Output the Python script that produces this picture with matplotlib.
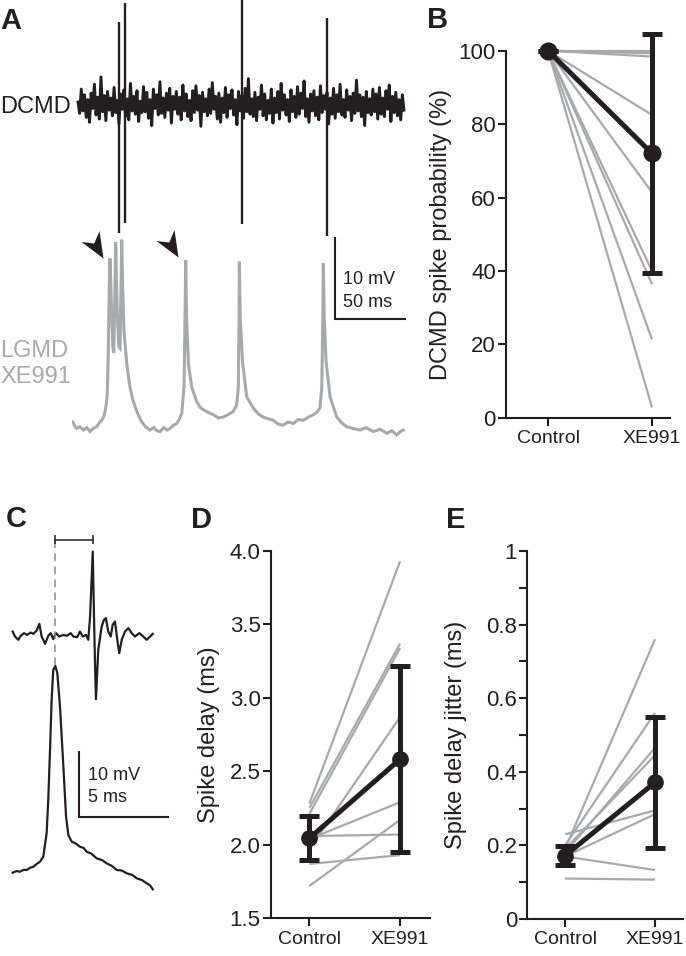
import numpy as np
import matplotlib.pyplot as plt
from matplotlib.path import Path

plt.rcParams['font.family'] = ['Liberation Sans', 'DejaVu Sans']

BLACK = '#231f20'
GRAY = '#a7a9ac'
W, H = 686, 956  # figure size in pixels

# ---------------- data ----------------
# Panel A: LGMD membrane potential (ms, mV above rest)
lgmd_a = [(0.5, 1.0), (2.0, 0.5), (3.4, 0.2), (5.5, 0.4), (8.1, 0.0), (10.5, 0.3), (12.9, -0.2),
          (15.2, 0.2), (17.6, 0.4), (19.5, 0.9), (21.2, 1.2), (22.5, 1.6), (23.6, 2.3), (24.5, 3.2),
          (25.2, 4.5), (25.9, 9.5), (26.6, 17.7), (27.1, 21.2), (28.1, 15.7), (29.1, 10.3),
          (29.8, 9.5), (30.5, 15.6), (31.2, 23.2), (32.1, 15.6), (33.4, 10.3), (34.3, 10.1),
          (35.0, 17.7), (35.5, 23.5), (36.2, 17.7), (37.1, 12.3), (39.1, 8.2), (41.4, 5.3),
          (43.2, 3.9), (45.0, 2.9), (47.5, 1.8), (49.8, 1.0), (52.5, 0.4), (55.7, 0.0), (58.5, 0.3),
          (60.6, -0.1), (62.9, -0.2), (65.5, 0.3), (68.0, 0.0), (70.0, 0.2), (72.5, 0.6), (74.8, 0.8),
          (76.8, 1.4), (78.4, 2.1), (80.0, 5.3), (80.7, 13.6), (81.2, 21.0), (81.9, 13.6), (83.1, 8.2),
          (85.5, 5.3), (89.1, 3.5), (91.5, 2.8), (93.8, 2.5), (97.0, 2.2), (100.9, 1.9), (104.5, 1.5),
          (108.1, 1.6), (111.5, 1.9), (115.2, 2.3), (117.6, 3.1), (118.8, 5.3), (119.3, 13.6),
          (119.5, 20.8), (120.2, 13.6), (121.9, 8.2), (124.8, 4.1), (129.5, 2.7), (133.0, 2.0),
          (136.6, 1.6), (140.0, 1.4), (143.8, 1.2), (147.5, 0.7), (150.9, 0.6), (154.5, 1.0),
          (158.1, 0.8), (161.5, 1.3), (165.2, 1.2), (169.0, 1.6), (172.4, 1.9), (175.0, 2.2),
          (177.1, 2.7), (178.4, 5.3), (179.1, 13.6), (179.5, 20.6), (180.2, 13.6), (181.4, 8.6),
          (184.3, 4.1), (189.1, 1.6), (192.5, 0.9), (196.2, 0.4), (200.5, 0.2), (205.7, 0.0),
          (210.0, 0.3), (215.2, -0.2), (220.0, 0.1), (224.8, -0.4), (228.5, -0.1), (231.9, -0.6),
          (234.5, -0.2), (236.6, 0.0)]

# Panel A: DCMD extracellular noise (same scale, offset upward)
DCMD_OFFSET = 40.2
dcmd_start, dcmd_end = 4.3, 237.1
dcmd_noise = [
    0.3, -1.1, 1.9, -0.8, 1.2, -1.6, 0.6, -2.2, 1.4, -0.5, 2.5, -1.3, 0.9, -1.8, 3.4, -0.9, 1.1, -2.0, 1.6, -0.7,
    0.8, -1.4, 2.1, -1.0, 0.5, -2.4, 1.3, -0.6, 1.8, -1.5, 0.7, -1.9, 2.6, -0.8, 1.0, -1.2, 1.7, -2.1, 0.4, -1.0,
    2.2, -0.9, 1.5, -1.7, 0.6, -2.6, 1.9, -0.5, 1.2, -1.3, 2.8, -1.1, 0.8, -1.6, 1.4, -0.7, 2.0, -2.3, 1.0, -0.6,
    1.6, -1.2, 0.9, -1.9, 2.4, -0.8, 1.3, -1.5, 0.5, -2.0, 1.7, -1.0, 2.3, -0.7, 1.1, -2.7, 1.5, -0.9, 0.7, -1.4,
    1.9, -1.1, 2.7, -0.6, 1.0, -1.8, 1.4, -2.2, 0.8, -1.0, 2.1, -1.6, 1.2, -0.5, 1.8, -1.3, 0.6, -2.5, 1.6, -0.8,
    1.1, -1.7, 2.0, -0.9, 3.2, -1.2, 0.7, -1.5, 1.5, -2.0, 0.9, -0.6, 2.4, -1.4, 1.3, -1.9, 0.5, -1.1, 1.9, -2.3,
    0.8, -1.0, 1.6, -1.8, 2.6, -0.7, 1.2, -1.3, 0.6, -2.1, 1.8, -0.9, 1.0, -1.6, 2.2, -1.2, 1.4, -0.5, 2.9, -1.5,
    0.7, -2.2, 1.3, -0.8, 1.7, -1.4, 0.9, -1.9, 2.3, -1.0, 1.1, -0.6, 1.5, -2.4, 0.8, -1.2, 2.0, -1.7, 1.2, -0.9,
    2.5, -1.3, 0.6, -1.6, 1.8, -0.7, 1.0, -2.0, 1.4, -1.1, 3.0, -0.8, 1.2, -1.5, 0.9, -2.6, 1.6, -1.0, 0.7, -1.3,
    1.9, -0.9, 1.3, -1.8, 2.1, -1.2, 0.8, -1.5, 1.7, -0.6, 2.4, -2.1, 1.0, -1.0, 1.5, -1.4, 0.6, -1.9, 1.2, -0.7]
spike_t = [33.8, 38.1, 121.6, 182.1]
spike_top = [10.2, 12.5, 13.1, 10.7]
spike_bottom = [-15.9, -14.6, -14.8, -16.3]
arrow_t = [22.4, 75.5]
arrow_v = [21.2, 21.4]

# Panel B: spike probability (%)
b_control = [100, 100, 100, 100, 100, 100, 100, 100, 100]
b_xe = [100.0, 99.3, 98.4, 82.5, 61.4, 40.0, 36.4, 21.3, 2.8]
b_mean = [100.0, 72.0]
b_sd = [0.0, 32.6]

# Panel C: single spike pair (ms, mV)
lgmd_c = [(-0.02, 0.05), (0.2, 0.3), (0.39, 0.2), (0.6, 0.5), (0.77, 0.46), (0.95, 0.8), (1.14, 0.97),
          (1.33, 1.4), (1.52, 1.75), (1.70, 2.52), (1.89, 6.14), (1.98, 11.28), (2.08, 19.01),
          (2.17, 26.74), (2.26, 31.38), (2.38, 31.99), (2.49, 30.87), (2.64, 25.70), (2.83, 16.43),
          (2.98, 8.70), (3.11, 5.87), (3.30, 4.84), (3.5, 4.6), (3.76, 4.06), (3.95, 3.9), (4.14, 3.29),
          (4.4, 3.0), (4.7, 2.27), (5.0, 2.0), (5.26, 1.5), (5.55, 1.1), (5.83, 0.46), (6.1, 0.4),
          (6.39, -0.05), (6.7, -0.3), (6.95, -0.82), (7.25, -1.1), (7.51, -1.59), (7.7, -1.9),
          (7.85, -2.52)]
DCMD_C_OFFSET = 36.8
dcmd_c = [(-0.02, 0.51), (0.11, -0.26), (0.30, -0.77), (0.43, -0.15), (0.62, 0.26), (0.80, 0.0),
          (0.99, 0.36), (1.14, 0.15), (1.33, 0.66), (1.48, 1.70), (1.61, -0.26), (1.80, -1.39),
          (1.98, -0.15), (2.12, 0.26), (2.26, -0.66), (2.42, 0.26), (2.60, -0.26), (2.83, 0.0),
          (3.02, -0.15), (3.24, 0.26), (3.39, -0.26), (3.61, -0.36), (3.76, 0.51), (3.92, -0.26),
          (4.10, 0.0), (4.23, -0.77), (4.33, 2.83), (4.48, 12.87), (4.55, 2.83), (4.61, -4.90),
          (4.66, -9.94), (4.79, -2.32), (4.98, 1.28), (5.11, 2.32), (5.22, 2.58), (5.35, 0.51),
          (5.49, -0.26), (5.60, 1.55), (5.73, 2.06), (5.86, -0.77), (5.97, -2.83), (6.11, -0.77),
          (6.29, 0.51), (6.48, 1.04), (6.67, 0.26), (6.85, -0.26), (7.10, 0.26), (7.32, -0.26),
          (7.51, -0.77), (7.70, -0.26), (7.85, 0.15)]

# Panel D: spike delay (ms)
d_control = [2.28, 2.25, 2.21, 1.97, 2.04, 1.72, 2.06, 1.87]
d_xe = [3.93, 3.37, 3.34, 2.87, 2.29, 2.17, 2.07, 1.93]
d_mean = [2.045, 2.583]
d_sd = [0.15, 0.635]

# Panel E: spike delay jitter (ms)
e_control = [0.19, 0.20, 0.18, 0.19, 0.23, 0.17, 0.17, 0.11]
e_xe = [0.76, 0.56, 0.465, 0.445, 0.295, 0.285, 0.133, 0.107]
e_mean = [0.172, 0.371]
e_sd = [0.025, 0.179]

groups = ['Control', 'XE991']


def px_axes(fig, x0, y0, x1, y1):
    # box in pixels, origin top-left
    return fig.add_axes([x0 / W, 1 - y1 / H, (x1 - x0) / W, (y1 - y0) / H])


def px_text(fig, x, y, s, **kw):
    fig.text(x / W, 1 - y / H, s, **kw)


def paired_plot(ax, ctrl, xe, mean, sd, ms):
    for c, e in zip(ctrl, xe):
        ax.plot([0, 1], [c, e], color=GRAY, lw=1.6, zorder=2, solid_capstyle='butt')
    ax.plot([0, 1], mean, color=BLACK, lw=3.6, marker='o', ms=ms, zorder=5)
    ax.errorbar([0, 1], mean, yerr=sd, fmt='none', ecolor=BLACK, elinewidth=3.6,
                capsize=7, capthick=3.6, zorder=4)
    for side in ['top', 'right']:
        ax.spines[side].set_visible(False)
    for side in ['left', 'bottom']:
        ax.spines[side].set_linewidth(1.5)
        ax.spines[side].set_color(BLACK)
    ax.set_xticks([0, 1])
    ax.set_xticklabels(groups)
    ax.tick_params(axis='both', direction='out', length=5.8, width=1.5, color=BLACK,
                   labelcolor=BLACK)
    ax.tick_params(axis='y', labelsize=16, pad=1.5)
    ax.tick_params(axis='x', labelsize=14, pad=3)
    ax.set_facecolor('none')


fig = plt.figure(figsize=(W / 100, H / 100), dpi=100)

# ---------------- A ----------------
axA = px_axes(fig, 72, 0, 410, 445)
axA.set_xlim(0, 241.4)
axA.set_ylim(-1.85, 53.1)
axA.axis('off')
la = np.array(lgmd_a)
axA.plot(la[:, 0], la[:, 1], color=GRAY, lw=2.2, solid_joinstyle='miter')
noise_t = np.linspace(dcmd_start, dcmd_end, len(dcmd_noise))
axA.plot(noise_t, DCMD_OFFSET + np.array(dcmd_noise), color=BLACK, lw=2.1)
axA.vlines(spike_t, DCMD_OFFSET + np.array(spike_bottom), DCMD_OFFSET + np.array(spike_top),
           color=BLACK, lw=1.7, clip_on=False)
head = Path([(0, 0), (-22, 16.5), (-9.3, 15), (-4, 27.5), (0, 0)],
            [Path.MOVETO, Path.LINETO, Path.LINETO, Path.LINETO, Path.CLOSEPOLY])
axA.plot(arrow_t, arrow_v, ls='none', marker=head, ms=39.6, color=BLACK, mew=0)
# scale bar 10 mV / 50 ms
sbx, sby = 187.9, 13.7
axA.plot([sbx, sbx, sbx + 50], [sby + 10, sby, sby], color=BLACK, lw=1.5,
         solid_joinstyle='miter', clip_on=False)
axA.text(sbx + 5.7, sby + 4.3, '10 mV', fontsize=13, color=BLACK, va='baseline')
axA.text(sbx + 5.7, sby + 1.45, '50 ms', fontsize=13, color=BLACK, va='baseline')

px_text(fig, 0, 113, 'DCMD', fontsize=17, color=BLACK, va='baseline')
px_text(fig, 0, 357, 'LGMD', fontsize=17, color=GRAY, va='baseline')
px_text(fig, 0, 383, 'XE991', fontsize=17, color=GRAY, va='baseline')

# ---------------- B ----------------
axB = px_axes(fig, 506, 14, 670, 417.7)
paired_plot(axB, b_control, b_xe, b_mean, b_sd, 12)
axB.set_xlim(-0.404, 1.173)
axB.set_ylim(0, 110)
axB.set_yticks([0, 20, 40, 60, 80, 100])
axB.spines['left'].set_bounds(0, 100)
axB.set_ylabel('DCMD spike probability (%)', fontsize=17, color=BLACK)
axB.yaxis.set_label_coords(-0.33, 50 / 110)

# ---------------- C ----------------
axC = px_axes(fig, 10, 530, 175, 900)
axC.set_xlim(-0.169, 9.101)
axC.set_ylim(-4.17, 53.0)
axC.axis('off')
lc = np.array(lgmd_c)
dc = np.array(dcmd_c)
axC.plot(lc[:, 0], lc[:, 1], color=BLACK, lw=1.6)
axC.plot(dc[:, 0], DCMD_C_OFFSET + dc[:, 1], color=BLACK, lw=1.6)
t_lgmd_pk = lc[np.argmax(lc[:, 1]), 0]
t_dcmd_pk = dc[np.argmax(dc[:, 1]), 0]
br_y = 51.5
axC.plot([t_lgmd_pk, t_lgmd_pk], [lc[:, 1].max() + 0.2, br_y], color='#8a8c8e', lw=1.1,
         dashes=(5, 3.5))
axC.plot([t_lgmd_pk, t_dcmd_pk], [br_y, br_y], color=BLACK, lw=1.1)
axC.vlines([t_lgmd_pk, t_dcmd_pk], br_y - 0.7, br_y + 0.7, color=BLACK, lw=1.1)
cbx, cby = 3.71, 8.7
axC.plot([cbx, cbx, cbx + 5], [cby + 10, cby, cby], color=BLACK, lw=1.5,
         solid_joinstyle='miter', clip_on=False)
axC.text(cbx + 0.5, cby + 5.7, '10 mV', fontsize=13, color=BLACK, va='baseline')
axC.text(cbx + 0.5, cby + 2.3, '5 ms', fontsize=13, color=BLACK, va='baseline')

# ---------------- D ----------------
axD = px_axes(fig, 270.7, 543.7, 430, 918.3)
paired_plot(axD, d_control, d_xe, d_mean, d_sd, 11)
axD.set_xlim(-0.426, 1.33)
axD.set_ylim(1.5, 4.05)
axD.set_yticks([1.5, 2.0, 2.5, 3.0, 3.5, 4.0])
axD.set_yticklabels(['1.5', '2.0', '2.5', '3.0', '3.5', '4.0'])
axD.spines['left'].set_bounds(1.5, 4.0)
axD.set_ylabel('Spike delay (ms)', fontsize=17, color=BLACK)
axD.yaxis.set_label_coords(-0.318, 1.25 / 2.55)

# ---------------- E ----------------
axE = px_axes(fig, 527.3, 543.6, 683, 919)
paired_plot(axE, e_control, e_xe, e_mean, e_sd, 11)
axE.set_xlim(-0.419, 1.311)
axE.set_ylim(0, 1.02)
e_ticks = [0, 0.1, 0.2, 0.3, 0.4, 0.5, 0.6, 0.7, 0.8, 0.9, 1.0]
axE.set_yticks(e_ticks)
axE.set_yticklabels(['0', '', '0.2', '', '0.4', '', '0.6', '', '0.8', '', '1'])
axE.spines['left'].set_bounds(0, 1)
axE.set_ylabel('Spike delay jitter (ms)', fontsize=17, color=BLACK)
axE.yaxis.set_label_coords(-0.387, 0.5 / 1.02)

# panel letters
for letter, x, y in [('A', 0, 29.3), ('B', 427, 28.3), ('C', 6, 527), ('D', 191, 528), ('E', 446, 528)]:
    px_text(fig, x, y, letter, fontsize=21, fontweight='bold', color=BLACK, va='baseline')

fig.savefig('out.png', dpi=100)
